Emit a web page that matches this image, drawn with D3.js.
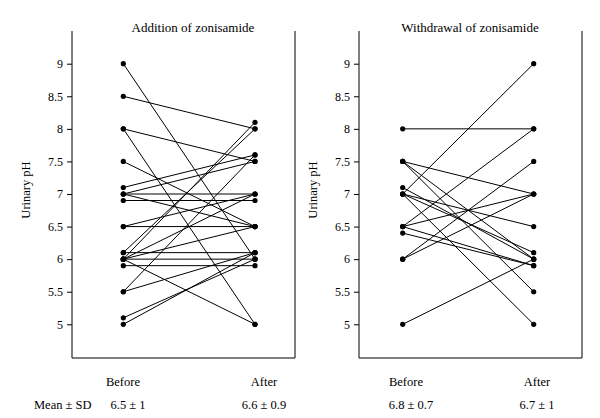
<!DOCTYPE html>
<html>
<head>
<meta charset="utf-8">
<script src="https://cdn.jsdelivr.net/npm/d3@7"></script>
<style>
body{margin:0;background:#fff;}
svg text{font-family:"Liberation Serif","DejaVu Serif",serif;fill:#000;}
</style>
</head>
<body>
<div id="chart"></div>
<script>
// before/after pH per patient
var addBefore = [9.0,8.5,8.0,8.0,7.5,7.1,7.0,7.0,7.0,6.9,6.5,6.5,6.1,6.1,6.0,6.0,6.0,6.0,6.0,5.9,5.5,5.5,5.1,5.0];
var addAfter  = [6.0,8.0,7.5,5.0,6.5,7.6,7.5,7.0,6.5,6.9,6.5,7.0,6.1,8.0,8.1,6.0,5.0,6.5,7.0,5.9,7.6,6.1,6.0,6.1];
var wdBefore = [8.0,7.5,7.5,7.5,7.1,7.0,7.0,7.0,7.0,6.5,6.5,6.5,6.4,6.0,6.0,5.0];
var wdAfter  = [8.0,7.0,6.0,5.5,6.0,9.0,5.0,6.1,6.5,8.0,7.0,5.9,5.9,7.5,7.0,6.0];
var phases = ["Before","After"];
var yTicks = [5,5.5,6,6.5,7,7.5,8,8.5,9];
var panelTitles = ["Addition of zonisamide","Withdrawal of zonisamide"];
var meanSd = [["6.5 \u00b1 1","6.6 \u00b1 0.9"],["6.8 \u00b1 0.7","6.7 \u00b1 1"]];

var W = 600, H = 418;
var svg = d3.select("#chart").append("svg").attr("width",W).attr("height",H);

var y = d3.scaleLinear().domain([5,9]).range([324.3,63.7]);
var frameTop = 31, frameBottom = 358;

function drawPanel(x0,x1,ptA,ptB,before,after,title,stats,titleX,labelX){
	var g = svg.append("g");
	var x = d3.scalePoint().domain(phases).range([ptA,ptB]);

	// frame: left axis, right and bottom edges, open on top
	g.append("path")
		.attr("d","M"+x0+","+frameTop+"V"+frameBottom+"H"+x1+"V"+frameTop)
		.attr("fill","none").attr("stroke","#000").attr("stroke-width",1);

	var ax = g.append("g").attr("transform","translate("+x0+",0)")
		.call(d3.axisLeft(y).tickValues(yTicks).tickSize(5).tickPadding(4).tickFormat(d3.format("")));
	ax.attr("font-family",null);
	ax.select(".domain").remove();
	ax.selectAll("text").style("font-size","12px");

	g.append("text").attr("transform","translate("+(x0-42)+",190) rotate(-90)")
		.attr("text-anchor","middle").style("font-size","12.5px").text("Urinary pH");

	g.append("text").attr("x",titleX).attr("y",32).attr("text-anchor","middle")
		.style("font-size","13px").text(title);

	var pairs = before.map(function(b,i){ return [b,after[i]]; });
	g.selectAll("line.pair").data(pairs).enter().append("line")
		.attr("x1",x("Before")).attr("x2",x("After"))
		.attr("y1",function(d){ return y(d[0]); })
		.attr("y2",function(d){ return y(d[1]); })
		.attr("stroke","#000").attr("stroke-width",1);

	var dots = [];
	pairs.forEach(function(d){ dots.push(["Before",d[0]]); dots.push(["After",d[1]]); });
	g.selectAll("circle").data(dots).enter().append("circle")
		.attr("cx",function(d){ return x(d[0]); })
		.attr("cy",function(d){ return y(d[1]); })
		.attr("r",2.6).attr("fill","#000");

	phases.forEach(function(p,i){
		g.append("text").attr("x",labelX[i]).attr("y",386).attr("text-anchor","middle")
			.style("font-size","12.5px").text(p);
		g.append("text").attr("x",labelX[i] + (i==0?5:0)).attr("y",409).attr("text-anchor","middle")
			.style("font-size","12.5px").text(stats[i]);
	});
}

drawPanel(72,295,123.3,255,addBefore,addAfter,panelTitles[0],meanSd[0],193,[123,264]);
drawPanel(359,582,402.7,533.7,wdBefore,wdAfter,panelTitles[1],meanSd[1],470,[406,537]);

svg.append("text").attr("x",34).attr("y",409).style("font-size","12.5px").text("Mean \u00b1 SD");
</script>
</body>
</html>
